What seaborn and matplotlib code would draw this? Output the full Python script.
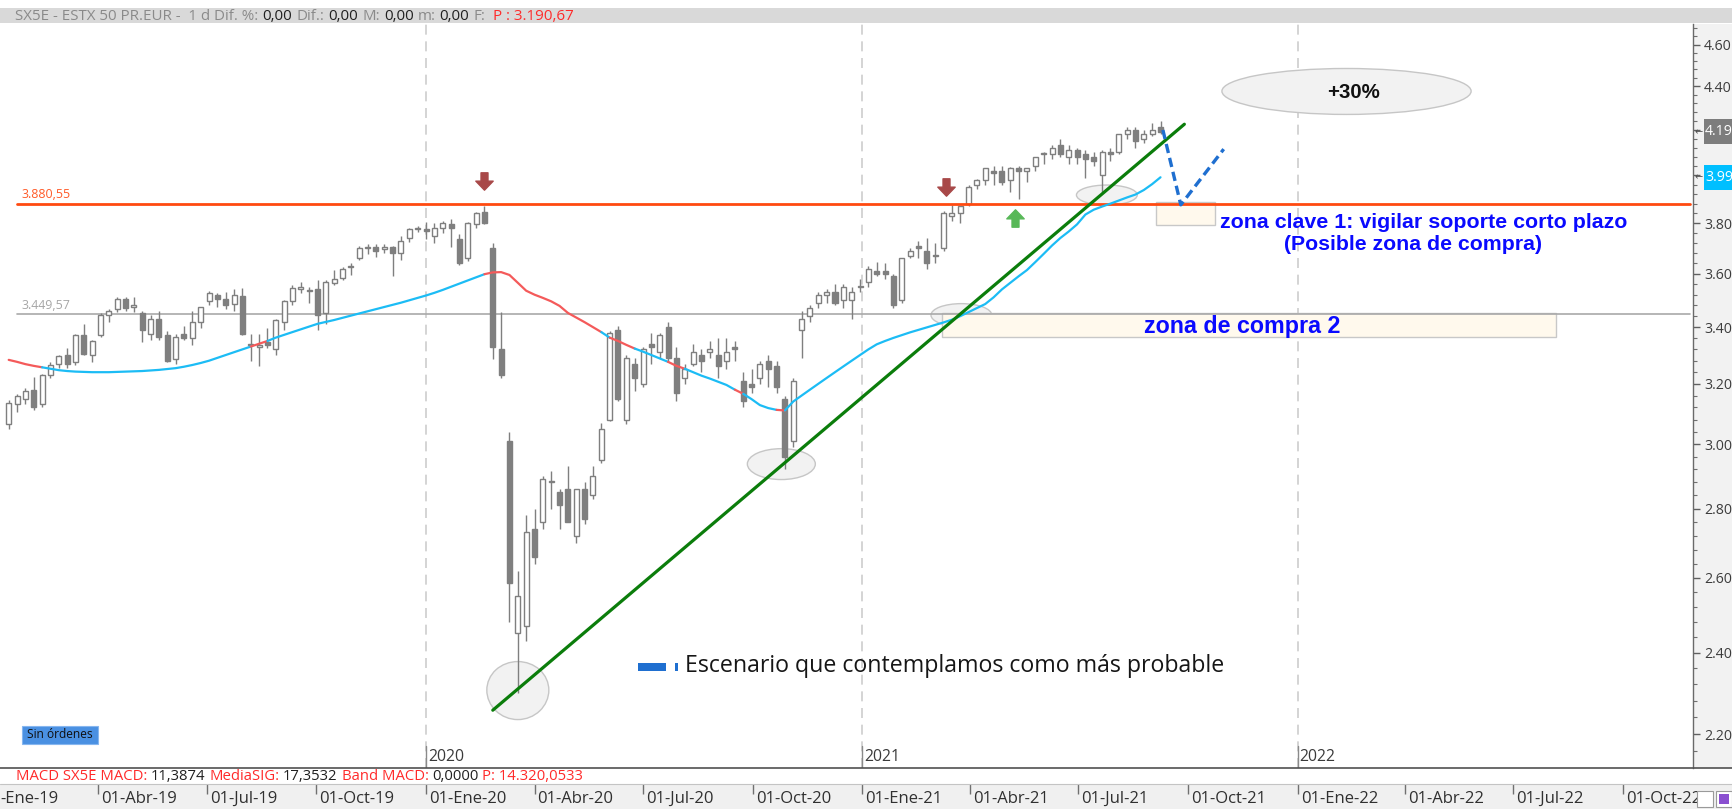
import numpy as np
import pandas as pd
import matplotlib
matplotlib.use("Agg")
import matplotlib.pyplot as plt
import matplotlib.dates as mdates
import matplotlib.transforms as mtransforms
from matplotlib.patches import Rectangle, Ellipse
from matplotlib.lines import Line2D
from matplotlib.path import Path
from matplotlib.ticker import FixedLocator, FuncFormatter, NullFormatter
import seaborn as sns

# ------------------------------------------------------------------ data
first_week = "2019-01-16"          # weekly candles (mid-week date)
opens = [3065,3130,3150,3180,3130,3230,3270,3300,3275,3370,
         3300,3370,3445,3465,3505,3475,3450,3375,3430,3370,
         3285,3375,3360,3420,3495,3520,3505,3485,3515,3340,
         3330,3345,3320,3420,3495,3540,3535,3540,3450,3565,
         3585,3625,3660,3700,3705,3695,3705,3680,3740,3775,
         3775,3750,3780,3795,3735,3660,3795,3845,3700,3320,
         3010,2450,2470,2740,2760,2880,2850,2860,2720,2860,
         2840,2950,3080,3390,3080,3270,3200,3340,3310,3400,
         3290,3220,3270,3300,3310,3300,3280,3330,3210,3200,
         3220,3280,3260,3150,3010,3390,3440,3490,3520,3530,
         3500,3500,3550,3570,3610,3610,3590,3500,3670,3710,
         3690,3670,3700,3830,3840,3880,3960,3980,4020,4020,
         3980,4030,4020,4040,4090,4090,4130,4080,4110,4090,
         4080,4000,4100,4100,4180,4200,4160,4180,4210]
highs = [3145,3165,3185,3225,3235,3275,3300,3325,3375,3410,
         3355,3450,3465,3510,3510,3510,3460,3445,3460,3385,
         3375,3405,3460,3475,3535,3525,3530,3540,3545,3375,
         3375,3395,3430,3500,3555,3570,3550,3575,3575,3615,
         3625,3640,3710,3715,3715,3715,3710,3750,3780,3790,
         3805,3800,3810,3815,3755,3805,3845,3870,3720,3455,
         3040,2620,2780,2800,2900,2915,2860,2930,2860,2880,
         2930,3070,3385,3405,3300,3290,3330,3380,3380,3420,
         3330,3270,3340,3320,3350,3360,3360,3350,3240,3250,
         3280,3300,3280,3160,3220,3460,3480,3530,3540,3560,
         3560,3550,3580,3630,3645,3640,3600,3660,3700,3730,
         3740,3720,3850,3875,3870,3960,3985,4030,4040,4040,
         4035,4040,4030,4080,4100,4130,4160,4130,4120,4110,
         4100,4110,4120,4180,4210,4210,4200,4230,4240]
lows = [3050,3105,3130,3110,3120,3220,3255,3255,3265,3300,
        3275,3365,3420,3455,3460,3455,3345,3355,3355,3275,
        3270,3355,3335,3395,3480,3475,3465,3460,3370,3280,
        3260,3325,3300,3390,3480,3525,3490,3390,3410,3555,
        3575,3595,3655,3675,3665,3680,3590,3655,3725,3765,
        3735,3720,3760,3705,3635,3650,3780,3795,3285,3220,
        2480,2300,2430,2640,2740,2800,2740,2760,2700,2755,
        2830,2940,3075,3140,3065,3175,3190,3270,3290,3280,
        3140,3200,3260,3240,3290,3220,3250,3280,3120,3170,
        3200,3190,3170,2920,2990,3290,3420,3470,3490,3480,
        3470,3430,3530,3550,3590,3580,3470,3490,3660,3660,
        3620,3640,3690,3810,3800,3870,3940,3960,3960,3960,
        3930,3900,3970,4020,4050,4070,4080,4050,4050,3990,
        4040,3930,4060,4090,4160,4120,4140,4170,4180]
closes = [3135,3160,3175,3120,3230,3265,3295,3270,3370,3305,
          3350,3445,3460,3505,3470,3480,3390,3430,3365,3280,
          3365,3360,3420,3475,3525,3505,3480,3520,3375,3335,
          3330,3335,3425,3495,3545,3550,3535,3445,3570,3580,
          3620,3625,3700,3705,3690,3705,3680,3730,3775,3780,
          3770,3780,3800,3780,3640,3800,3840,3800,3330,3230,
          2585,2550,2730,2660,2890,2880,2810,2760,2860,2770,
          2900,3050,3380,3150,3290,3220,3320,3330,3370,3290,
          3170,3250,3310,3280,3320,3260,3310,3320,3140,3190,
          3270,3250,3190,2960,3210,3430,3470,3520,3530,3490,
          3550,3530,3550,3620,3600,3600,3480,3660,3690,3700,
          3640,3670,3840,3840,3870,3950,3980,4030,4010,3970,
          4030,4020,4030,4080,4090,4120,4090,4110,4080,4070,
          4060,4100,4090,4180,4200,4150,4180,4200,4190]
ma200 = [3283,3276,3268,3262,3257,3252,3247,3244,3242,3241,
         3240,3240,3240,3241,3242,3243,3244,3246,3248,3251,
         3254,3259,3265,3272,3280,3290,3300,3310,3320,3330,
         3340,3350,3362,3372,3382,3392,3402,3412,3419,3426,
         3434,3442,3450,3458,3466,3474,3482,3490,3499,3508,
         3517,3527,3538,3550,3562,3574,3586,3598,3605,3606,
         3595,3565,3535,3520,3508,3495,3478,3452,3435,3418,
         3400,3382,3362,3350,3336,3323,3312,3300,3288,3276,
         3262,3252,3240,3228,3218,3207,3196,3180,3166,3148,
         3128,3118,3112,3110,3140,3160,3180,3200,3220,3240,
         3260,3280,3300,3320,3338,3350,3361,3371,3381,3390,
         3399,3408,3417,3427,3440,3455,3470,3485,3510,3540,
         3565,3590,3614,3645,3677,3710,3740,3766,3795,3835,
         3855,3868,3880,3893,3906,3918,3937,3962,3991]

resist_level = 3880.55
support_level = 3449.57
level_span = ["2019-01-23", "2022-11-26"]

trend_dates = ["2020-02-26", "2021-09-28"]
trend_prices = [2257, 4224]

scen_dates = ["2021-09-10", "2021-09-25", "2021-10-31"]
scen_prices = [4198, 3875, 4113]

ell_dates = ["2020-03-18", "2020-10-25", "2021-03-25", "2021-07-25", "2022-02-11"]
ell_prices = [2306, 2937, 3444, 3916, 4376]
ell_width_days = [52, 57, 51, 51, 209]
ell_height_pts = [143, 97, 85, 84, 215]

rect_start = ["2021-09-04", "2021-03-09"]
rect_end = ["2021-10-24", "2022-08-06"]
rect_low = [3792, 3364]
rect_high = [3887, 3452]

arrow_dates = ["2020-02-19", "2021-03-12", "2021-05-09"]
arrow_prices = [3975, 3949, 3821]
arrow_dirs = ["down", "down", "up"]

year_lines = ["2020-01-01", "2021-01-01", "2022-01-01"]
year_labels = ["2020", "2021", "2022"]
quarter_months = ["Ene", "Abr", "Jul", "Oct"]
y_majors = [2200, 2400, 2600, 2800, 3000, 3200, 3400, 3600, 3800, 4000, 4200, 4400, 4600]

header_pieces = [("SX5E - ESTX 50 PR.EUR -  1 d Dif. %:", "gray", 1), ("0,00", "dark", 1),
                 ("Dif.:", "gray", 1), ("0,00", "dark", 1), ("M:", "gray", 1), ("0,00", "dark", 1),
                 ("m:", "gray", 1), ("0,00", "dark", 1), ("F:", "gray", 2), ("P : 3.190,67", "red", 0)]
macd_pieces = [("MACD SX5E MACD:", "red", 1), ("11,3874", "dark", 1), ("MediaSIG:", "red", 1),
               ("17,3532", "dark", 1), ("Band MACD:", "red", 1), ("0,0000", "dark", 1),
               ("P: 14.320,0533", "red", 0)]

# ------------------------------------------------------------------ style
W, H, DPI = 1733, 809, 100
sns.set_theme(style="white")
UI = ['Open Sans', 'DejaVu Sans']
ARIAL = ['Liberation Sans', 'DejaVu Sans']
plt.rcParams['font.family'] = UI

CANDLE = '#7f7f7f'
CYAN = '#1cbcf5'
RED = '#f45a5a'
BLUE_TXT = '#0a0aff'
SCEN = '#1f6fd0'
TXT_COL = {"gray": '#8a8a8a', "dark": '#202020', "red": '#ff2a2a'}

fig = plt.figure(figsize=(W / DPI, H / DPI), dpi=DPI, facecolor='white')
R = fig.canvas.get_renderer()


def fx(x):
    return x / W


def fy(y):
    return 1 - y / H


def fit(t, width):
    w = t.get_window_extent(R).width
    t.set_fontsize(t.get_fontsize() * width / w)
    return t


def ftext(x, y, s, width=None, ha='left', va='center', size=10, **kw):
    t = fig.text(fx(x), fy(y), s, ha=ha, va=va, fontsize=size, **kw)
    if width:
        fit(t, width)
    return t


def run_text(x0, x1, y, pieces, size0=10, **kw):
    probe = fig.text(0, 0, "||", fontsize=size0, **kw)
    base = probe.get_window_extent(R).width
    probe.set_text("| |")
    sp = probe.get_window_extent(R).width - base
    offs = []
    pos = 0.0
    for s, col, gap in pieces:
        probe.set_text("|" + s + "|")
        w = probe.get_window_extent(R).width - base
        offs.append(pos)
        pos += w + gap * sp
    probe.remove()
    k = (x1 - x0) / pos
    for (s, col, gap), off in zip(pieces, offs):
        fig.text(fx(x0 + off * k), fy(y), s, color=TXT_COL[col], fontsize=size0 * k,
                 ha='left', va='center', **kw)


def eu(v, nd=2):
    s = f"{v:,.{nd}f}"
    return s.replace(',', 'X').replace('.', ',').replace('X', '.')


# ------------------------------------------------------------------ frame pieces
AX_R, AX_T, AX_B = 1693, 24, 768
fig.patches.append(Rectangle((0, fy(23)), 1, 15 / H, transform=fig.transFigure,
                             facecolor='#d9d9d9', edgecolor='none', zorder=-2))
fig.patches.append(Rectangle((fx(AX_R), fy(AX_B)), 1 - fx(AX_R), (AX_B - AX_T) / H,
                             transform=fig.transFigure, facecolor='#f2f2f2',
                             edgecolor='none', zorder=-2))
fig.patches.append(Rectangle((0, 0), 1, 25 / H, transform=fig.transFigure,
                             facecolor='#f0f0f0', edgecolor='none', zorder=-2))
fig.lines.append(Line2D([0, 1], [fy(784), fy(784)], transform=fig.transFigure,
                        color='#c4c4c4', lw=0.8))
fig.lines.append(Line2D([0, 1], [fy(768), fy(768)], transform=fig.transFigure,
                        color='#505050', lw=1.2, zorder=5))

ax = fig.add_axes([0, fy(AX_B), fx(AX_R), (AX_B - AX_T) / H])
ax.set_yscale('log')
XL = (mdates.date2num(pd.Timestamp("2019-01-08 17:00")),
      mdates.date2num(pd.Timestamp("2022-11-28 14:00")))
YL = (2121.7, 4702)
ax.set_xlim(*XL)
ax.set_ylim(*YL)
ax.set_facecolor('white')
ax.grid(False)
for sname in ['left', 'top', 'bottom']:
    ax.spines[sname].set_visible(False)
ax.spines['right'].set_color('#6a6a6a')
ax.spines['right'].set_linewidth(1)
ax.tick_params(axis='x', which='both', bottom=False, labelbottom=False)
ax.yaxis.tick_right()
ax.yaxis.set_major_locator(FixedLocator(y_majors))
ax.yaxis.set_major_formatter(FuncFormatter(lambda v, p: f"{v / 1000:.2f}"))
ax.yaxis.set_minor_locator(FixedLocator([v for v in range(2160, 4720, 40) if v % 200]))
ax.yaxis.set_minor_formatter(NullFormatter())
ax.tick_params(axis='y', which='major', direction='out', length=5, width=1,
               color='#606060', labelsize=10.2, labelcolor='#3c3c3c', pad=3)
ax.tick_params(axis='y', which='minor', direction='out', length=3, width=0.8, color='#707070')

# year separators
for d, lab in zip(year_lines, year_labels):
    xd = mdates.date2num(pd.Timestamp(d))
    ax.axvline(xd, color='#cdcdcd', lw=1.2, ls=(0, (6, 4)), zorder=1)
    ax.axvline(xd, ymin=0, ymax=22 / 744, color='#8a8a8a', lw=1, zorder=1)
    tr = mtransforms.offset_copy(mtransforms.blended_transform_factory(ax.transData, ax.transAxes),
                                 fig=fig, x=2, y=0, units='dots')
    t = ax.text(xd, 11 / 744, lab, transform=tr, ha='left', va='center',
                color='#3a3a3a', fontsize=11)
    fit(t, 36)

# annotation shapes
for d, p, wd, hp in zip(ell_dates, ell_prices, ell_width_days, ell_height_pts):
    ax.add_patch(Ellipse((mdates.date2num(pd.Timestamp(d)), p), wd, hp,
                         facecolor='#f2f2f2', edgecolor='#c6c6c6', lw=1, zorder=2))
for d0, d1, p0, p1 in zip(rect_start, rect_end, rect_low, rect_high):
    x0 = mdates.date2num(pd.Timestamp(d0))
    x1 = mdates.date2num(pd.Timestamp(d1))
    ax.add_patch(Rectangle((x0, p0), x1 - x0, p1 - p0, facecolor='#fff9ed',
                           edgecolor='#c8c8c8', lw=1, zorder=2))

# horizontal levels
lv = pd.to_datetime(level_span)
ax.plot(lv, [resist_level] * 2, color='#ff4a10', lw=2, zorder=5)
ax.plot(lv, [support_level] * 2, color='#a9a9a9', lw=1.2, zorder=2.5)
for lvl, col in [(resist_level, '#ff5a28'), (support_level, '#a6a6a6')]:
    t = ax.annotate(eu(lvl), xy=(mdates.date2num(lv[0]), lvl), xytext=(3.5, 1.5),
                    textcoords='offset points', color=col, fontsize=9, va='bottom', ha='left')
    fit(t, 49)

# candles
dates = pd.date_range(first_week, periods=len(closes), freq="7D")
xd = mdates.date2num(dates)
o, hi, lo, c = (np.asarray(a, float) for a in (opens, highs, lows, closes))
up = c >= o
ax.vlines(xd, lo, hi, color=CANDLE, lw=1, zorder=3)
bot = np.minimum(o, c)
hgt = np.maximum(np.abs(c - o), 4)
ax.bar(xd[up], hgt[up], bottom=bot[up], width=4.2, facecolor='white',
       edgecolor=CANDLE, lw=1, zorder=4)
ax.bar(xd[~up], hgt[~up], bottom=bot[~up], width=4.2, facecolor=CANDLE,
       edgecolor=CANDLE, lw=1, zorder=4)

# 200-session average coloured by price position
ma = np.asarray(ma200, float)
seg_col = np.where(c > ma, CYAN, RED)
runs = []
for i in range(1, len(ma)):
    col = seg_col[i]
    if runs and runs[-1][2] == col:
        runs[-1][1] = i
    else:
        runs.append([i - 1, i, col])
for a, b, col in runs:
    sns.lineplot(x=dates[a:b + 1], y=ma[a:b + 1], color=col, lw=1.6, ax=ax,
                 legend=False, estimator=None, zorder=6)

# trend line and scenario
sns.lineplot(x=pd.to_datetime(trend_dates), y=trend_prices, color='#0b7d0b', lw=2.3,
             ax=ax, legend=False, estimator=None, zorder=7)
ax.plot(pd.to_datetime(scen_dates), scen_prices, color=SCEN, lw=2.4,
        ls=(0, (2.8, 1.5)), zorder=8)

# arrows
down_arrow = Path([(-0.2, 0.5), (0.2, 0.5), (0.2, 0.02), (0.5, 0.02), (0, -0.5),
                   (-0.5, 0.02), (-0.2, 0.02), (-0.2, 0.5)],
                  [Path.MOVETO] + [Path.LINETO] * 6 + [Path.CLOSEPOLY])
up_arrow = Path(down_arrow.vertices * np.array([1, -1]), down_arrow.codes)
for d, p, dr in zip(arrow_dates, arrow_prices, arrow_dirs):
    ax.plot([pd.Timestamp(d)], [p], marker=down_arrow if dr == "down" else up_arrow,
            ms=12.5, color='#a84848' if dr == "down" else '#58b858', ls='none', zorder=9)

# value flags on the price scale
for val, bg in [(c[-1], '#7d7d7d'), (ma[-1], '#00bfff')]:
    ycen = ax.transData.transform((XL[0], val))[1]
    fig.patches.append(Rectangle((fx(1704), (ycen - 12.5) / H), 1 - fx(1704), 25 / H,
                                 transform=fig.transFigure, facecolor=bg,
                                 edgecolor='none', zorder=8))
    fig.text(fx(1705), ycen / H, f"{val / 1000:.2f}", color='white', fontsize=10.2,
             ha='left', va='center', zorder=9)
    fig.text(fx(1695), ycen / H, "←", color='#505050', fontsize=7,
             ha='left', va='center', zorder=9, family=['DejaVu Sans'])

ax.set_xlim(*XL)
ax.set_ylim(*YL)
ax.set_xlabel("")
ax.set_ylabel("")

# ------------------------------------------------------------------ texts
ftext(1220, 222, "zona clave 1: vigilar soporte corto plazo", width=405,
      color=BLUE_TXT, fontweight='bold', family=ARIAL)
ftext(1284, 245, "(Posible zona de compra)", width=257,
      color=BLUE_TXT, fontweight='bold', family=ARIAL)
ftext(1144, 326, "zona de compra 2", width=196,
      color=BLUE_TXT, fontweight='bold', family=ARIAL)
ftext(1353.5, 92, "+30%", width=53, ha='center', color='#111111',
      fontweight='bold', family=ARIAL)

fig.patches.append(Rectangle((fx(638), fy(671)), 28 / W, 8 / H, transform=fig.transFigure,
                             facecolor=SCEN, edgecolor='none', zorder=5))
fig.patches.append(Rectangle((fx(675), fy(671)), 3 / W, 8 / H, transform=fig.transFigure,
                             facecolor=SCEN, edgecolor='none', zorder=5))
ftext(685, 666, "Escenario que contemplamos como más probable", width=540, color='#161616')

fig.patches.append(Rectangle((fx(22), fy(744)), 76 / W, 18 / H, transform=fig.transFigure,
                             facecolor='#4a90e2', edgecolor='#86b6ef', lw=0.8, zorder=5))
ftext(60, 735, "Sin órdenes", width=66, ha='center', color='#101010', zorder=6)

run_text(15, 574, 16, header_pieces)
run_text(16, 583, 777, macd_pieces)

# ------------------------------------------------------------------ date strip
axd = fig.add_axes([0, 0, fx(AX_R), 25 / H])
axd.set_xlim(*XL)
axd.set_ylim(0, 1)
axd.axis('off')
qd = pd.date_range("2019-01-01", "2022-10-01", freq="QS")
axd.vlines(mdates.date2num(qd), 0.62, 1.0, color='#707070', lw=1)
trq = mtransforms.offset_copy(axd.transData, fig=fig, x=3, y=0, units='dots')
size_q = None
for d in qd:
    lab = f"01-{quarter_months[(d.month - 1) // 3]}-{d.strftime('%y')}"
    xq = mdates.date2num(d)
    if xq < XL[0]:
        # label of the first quarter starts left of the frame: only its visible tail shows
        t = axd.text(0, 0.4, lab[2:], transform=axd.transAxes, ha='left', va='center',
                     color='#303030', fontsize=11)
    else:
        t = axd.text(xq, 0.4, lab, transform=trq, ha='left', va='center',
                     color='#303030', fontsize=11)
        if size_q is None:
            fit(t, 76)
            size_q = t.get_fontsize()
    t.set_fontsize(size_q if size_q else 11)
axd.texts[0].set_fontsize(size_q)

for xx in (1697, 1716):
    fig.patches.append(Rectangle((fx(xx), fy(807)), 16 / W, 16 / H, transform=fig.transFigure,
                                 facecolor='white', edgecolor='#9a9a9a', lw=0.8, zorder=6))
fig.patches.append(Rectangle((fx(1719), fy(804)), 10 / W, 10 / H, transform=fig.transFigure,
                             facecolor='#8a4fd0', edgecolor='none', zorder=7))

fig.savefig("out.png", dpi=DPI)
